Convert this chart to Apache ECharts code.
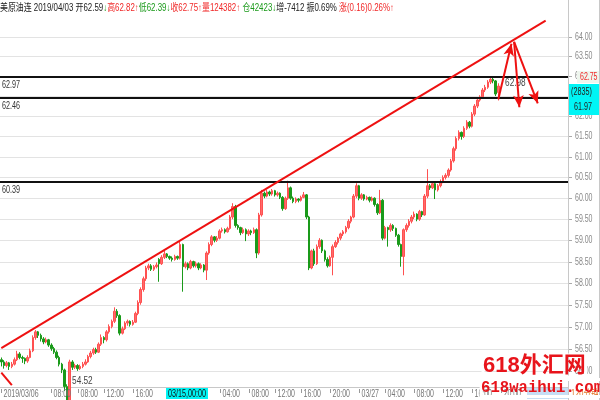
<!DOCTYPE html>
<html><head><meta charset="utf-8">
<script src="https://cdn.jsdelivr.net/npm/echarts@6/dist/echarts.min.js"></script>
<style>html,body{margin:0;padding:0;background:#fff}#c{width:600px;height:400px}</style>
</head><body><div id="c"></div>
<script>
// ---- data (prices) ----
const opens = [
56.25,56.20,56.12,56.18,56.10,56.15,56.25,56.38,56.30,56.28,
56.22,56.30,56.45,56.75,56.88,56.80,56.72,56.65,56.70,56.58,
56.50,56.42,56.30,56.15,56.02,55.65,54.95,56.20,56.08,56.12,
56.05,56.10,56.15,56.20,56.32,56.40,56.48,56.42,56.60,56.75,
56.70,56.88,57.00,57.12,57.35,57.25,56.85,56.95,57.08,57.12,
57.05,57.10,57.30,57.55,57.85,58.10,58.35,58.40,58.32,58.38,
58.55,58.45,58.60,58.68,58.62,58.58,58.55,58.62,58.58,58.90,
58.38,58.45,58.35,58.50,58.40,58.45,58.35,58.42,58.30,58.70,
58.90,59.08,59.00,59.05,59.22,59.25,59.20,59.28,59.55,59.80,
59.35,59.30,59.18,59.25,59.15,59.22,59.18,59.25,58.70,59.60,
60.12,60.05,60.15,60.10,60.18,60.08,60.12,60.02,59.75,60.00,
60.25,60.00,59.92,59.98,59.95,60.02,60.08,59.55,58.35,58.75,
58.45,58.85,59.00,58.75,58.55,58.40,58.60,58.85,58.95,59.05,
59.15,59.20,59.30,59.45,59.55,60.05,60.30,60.00,60.08,59.98,
60.02,59.95,60.00,59.85,59.65,59.95,59.05,59.30,59.25,59.35,
59.28,59.12,58.90,58.62,59.25,59.35,59.45,59.55,59.62,59.50,
59.68,59.60,60.05,60.30,60.25,60.35,60.20,60.30,60.40,60.50,
60.55,60.68,60.90,61.20,61.45,61.60,61.50,61.70,61.85,61.75,
62.05,62.25,62.40,62.48,62.65,62.72,62.85,62.92,62.88,62.59];
const highs = [
56.30,56.24,56.22,56.20,56.20,56.30,56.45,56.42,56.34,56.30,
56.35,56.50,56.80,56.92,56.90,56.84,56.76,56.75,56.72,56.62,
56.54,56.46,56.34,56.18,56.05,55.70,56.25,56.24,56.16,56.15,
56.14,56.20,56.26,56.36,56.45,56.52,56.52,56.64,56.82,56.78,
56.92,57.05,57.16,57.44,57.40,57.28,57.00,57.12,57.16,57.14,
57.15,57.34,57.60,57.90,58.15,58.40,58.45,58.44,58.42,58.48,
58.58,58.65,58.75,58.70,58.64,58.62,58.66,58.64,58.98,58.92,
58.50,58.48,58.54,58.52,58.50,58.48,58.46,58.44,58.74,58.95,
59.12,59.10,59.10,59.26,59.30,59.28,59.32,59.60,59.88,59.84,
59.38,59.32,59.30,59.28,59.26,59.25,59.30,59.28,59.65,60.20,
60.16,60.20,60.18,60.22,60.20,60.16,60.14,60.05,60.04,60.42,
60.28,60.04,60.02,60.00,60.06,60.15,60.10,59.58,58.78,58.80,
58.90,59.05,59.02,58.78,58.60,58.64,58.90,59.00,59.08,59.18,
59.24,59.34,59.50,59.58,60.10,60.36,60.32,60.12,60.10,60.06,
60.04,60.04,60.02,59.88,60.20,59.98,59.34,59.32,59.40,59.38,
59.30,59.15,58.92,59.28,59.40,59.50,59.60,59.68,59.64,59.72,
59.70,60.10,60.70,60.34,60.40,60.38,60.34,60.45,60.55,60.60,
60.72,60.95,61.25,61.50,61.65,61.62,61.75,61.90,61.88,62.10,
62.30,62.45,62.52,62.70,62.78,62.90,62.95,62.98,62.90,62.82];
const lows = [
56.10,56.05,56.08,56.02,56.06,56.12,56.22,56.26,56.18,56.15,
56.18,56.28,56.42,56.70,56.74,56.66,56.60,56.62,56.54,56.45,
56.38,56.26,56.10,55.95,55.55,54.52,54.90,56.02,56.04,56.00,
56.02,56.06,56.12,56.18,56.28,56.36,56.38,56.40,56.56,56.62,
56.66,56.84,56.96,57.08,57.20,56.80,56.82,56.92,57.02,57.00,
57.02,57.08,57.26,57.50,57.80,58.05,58.30,58.28,58.28,58.34,
58.03,58.42,58.56,58.58,58.54,58.50,58.52,58.54,58.55,57.80,
58.34,58.30,58.32,58.36,58.36,58.30,58.32,58.25,58.07,58.66,
58.86,58.95,58.96,59.02,59.18,59.16,59.18,59.25,59.50,59.30,
59.25,59.12,59.15,58.98,59.10,59.12,59.15,58.58,58.66,59.56,
60.00,60.02,60.05,60.06,60.04,60.04,59.98,59.70,59.72,59.96,
59.96,59.88,59.88,59.90,59.92,60.00,59.50,58.30,58.32,58.40,
58.42,58.80,58.70,58.50,58.36,58.38,58.18,58.82,58.90,59.00,
59.10,59.16,59.26,59.40,59.52,60.00,59.95,59.96,59.94,59.95,
59.90,59.92,59.80,59.60,59.62,59.00,59.02,58.85,59.20,59.22,
59.08,58.85,58.38,58.18,59.20,59.30,59.40,59.50,59.45,59.46,
59.55,59.58,60.00,60.20,60.22,59.98,60.16,60.26,60.36,60.45,
60.50,60.64,60.86,61.15,61.40,61.42,61.46,61.66,61.70,61.72,
62.00,62.20,62.36,62.44,62.60,62.68,62.80,62.82,62.50,62.39];
const closes = [
56.20,56.12,56.18,56.10,56.15,56.25,56.38,56.30,56.28,56.22,
56.30,56.45,56.75,56.88,56.80,56.72,56.65,56.70,56.58,56.50,
56.42,56.30,56.15,56.02,55.65,54.95,56.20,56.08,56.12,56.05,
56.10,56.15,56.20,56.32,56.40,56.48,56.42,56.60,56.75,56.70,
56.88,57.00,57.12,57.35,57.25,56.85,56.95,57.08,57.12,57.05,
57.10,57.30,57.55,57.85,58.10,58.35,58.40,58.32,58.38,58.42,
58.45,58.60,58.68,58.62,58.58,58.55,58.62,58.58,58.90,58.38,
58.45,58.35,58.50,58.40,58.45,58.35,58.42,58.30,58.70,58.90,
59.08,59.00,59.05,59.22,59.25,59.20,59.28,59.55,59.80,59.35,
59.30,59.18,59.25,59.15,59.22,59.18,59.25,58.70,59.60,60.12,
60.05,60.15,60.10,60.18,60.08,60.12,60.02,59.75,60.00,60.25,
60.00,59.92,59.98,59.95,60.02,60.08,59.55,58.35,58.75,58.45,
58.85,59.00,58.75,58.55,58.40,58.60,58.85,58.95,59.05,59.15,
59.20,59.30,59.45,59.55,60.05,60.30,60.00,60.08,59.98,60.02,
59.95,60.00,59.85,59.65,59.95,59.05,59.30,59.25,59.35,59.28,
59.12,58.90,58.62,59.25,59.35,59.45,59.55,59.62,59.50,59.68,
59.60,60.05,60.30,60.25,60.35,60.20,60.30,60.40,60.50,60.55,
60.68,60.90,61.20,61.45,61.60,61.50,61.70,61.85,61.75,62.05,
62.25,62.40,62.48,62.65,62.72,62.85,62.92,62.88,62.55,62.75];

const categoryCount = 216;
const priceTicks = [56.00,56.50,57.00,57.50,58.00,58.50,59.00,59.50,60.00,60.50,61.00,61.50,62.00,62.50,63.00,63.50,64.00];
const levelValues = [62.97, 62.46, 60.39];
const xLabelIndex = [0,19,29,39,50,83,94,104,114,125,136,146,157,168,179,190];
const xLabelText = ['2019/03/06','08:00','08:00','12:00','16:00','04:00','08:00','12:00','16:00','20:00','03/27','04:00','08:00','12:00','16:00','20:00'];
const annotIndex = [187, 25];
const annotValue = [62.98, 54.52];
const annotAnchor = [62.98, 55.64];
const trendLines = [
  [[0, 56.51], [207, 64.41]],
  [[0, 55.96], [4, 55.68]]
];
const arrows = [
  [[189, 62.42], [194, 63.82]],
  [[195, 63.87], [197, 62.22]],
  [[195, 63.87], [204, 62.32]]
];
const yMin = 55.64, yMax = 64.48;

// ---- chart ----
const L = Math.log;
const RED = '#f02828', GREEN = '#1a9a1a';
const cats = Array.from({length: categoryCount}, (_, i) => String(i));
const candleData = opens.map((o, i) => [L(o), L(closes[i]), L(lows[i]), L(highs[i])]);
const FONT = 'Arial, "Liberation Sans", "Noto Sans CJK SC", sans-serif';

const chart = echarts.init(document.getElementById('c'));
chart.setOption({
  animation: false,
  backgroundColor: '#fff',
  grid: {left: 0, right: 32, top: 18, bottom: 13},
  xAxis: {type: 'category', data: cats, boundaryGap: true,
    axisLine: {show: true, lineStyle: {color: '#c8c8c8'}},
    axisTick: {show: false}, axisLabel: {show: false}, splitLine: {show: false}},
  yAxis: {type: 'value', position: 'right', min: L(yMin), max: L(yMax), scale: true,
    axisLine: {show: true, lineStyle: {color: '#c8c8c8'}},
    axisTick: {show: false}, axisLabel: {show: false}, splitLine: {show: false}},
  series: [
    { // horizontal grid + right labels (log price scale)
      type: 'custom', silent: true, z: 1,
      data: priceTicks.map(v => [0, L(v)]),
      renderItem: function (params, api) {
        const cs = params.coordSys;
        const y = Math.round(api.coord([0, api.value(1)])[1]) + 0.5;
        const r = cs.x + cs.width;
        return {type: 'group', children: [
          {type: 'line', shape: {x1: cs.x, y1: y, x2: r, y2: y}, style: {stroke: '#e3e3e3', lineWidth: 1}},
          {type: 'line', shape: {x1: r, y1: y, x2: r + 4, y2: y}, style: {stroke: '#aaa', lineWidth: 1}},
          {type: 'text', x: r + 7, y: y, scaleX: 0.7,
            style: {text: priceTicks[params.dataIndex].toFixed(2), fill: '#888', fontSize: 10, fontFamily: FONT, verticalAlign: 'middle', align: 'left'}}
        ]};
      }
    },
    {
      type: 'candlestick', z: 2, barWidth: 2,
      data: candleData,
      itemStyle: {color: '#ff6b6b', color0: GREEN, borderColor: '#ff5050', borderColor0: GREEN, borderWidth: 1},
      markLine: {
        silent: true, animation: false, symbol: 'none',
        lineStyle: {color: '#ee1111', width: 2, type: 'solid'},
        label: {show: false},
        data: trendLines.map(t => [{coord: [t[0][0], L(t[0][1])]}, {coord: [t[1][0], L(t[1][1])]}])
          .concat(arrows.map(a => [
            {coord: [a[0][0], L(a[0][1])], symbol: 'none'},
            {coord: [a[1][0], L(a[1][1])], symbol: 'arrow', symbolSize: [8, 12]}
          ]))
      }
    },
    { // support / resistance levels
      type: 'custom', silent: true, z: 3,
      data: levelValues.map(v => [0, L(v)]),
      renderItem: function (params, api) {
        const cs = params.coordSys;
        const y = Math.round(api.coord([0, api.value(1)])[1]);
        return {type: 'group', children: [
          {type: 'line', shape: {x1: cs.x, y1: y, x2: cs.x + cs.width, y2: y}, style: {stroke: '#111', lineWidth: 2}},
          {type: 'text', x: 2, y: y + 3, scaleX: 0.72,
            style: {text: levelValues[params.dataIndex].toFixed(2), fill: '#333', fontSize: 10, fontFamily: FONT, verticalAlign: 'top', align: 'left'}}
        ]};
      }
    },
    { // x axis labels
      type: 'custom', silent: true, z: 3,
      data: xLabelIndex.map(i => [i, L(60)]),
      renderItem: function (params, api) {
        const cs = params.coordSys;
        const x = Math.round(api.coord([api.value(0), api.value(1)])[0]) + 0.5;
        const b = cs.y + cs.height;
        return {type: 'group', children: [
          {type: 'line', shape: {x1: x, y1: b + 2, x2: x, y2: b + 6}, style: {stroke: '#999', lineWidth: 1}},
          {type: 'text', x: x + 2, y: b + 2, scaleX: 0.7,
            style: {text: xLabelText[params.dataIndex], fill: '#777', fontSize: 10, fontFamily: FONT, verticalAlign: 'top', align: 'left'}}
        ]};
      }
    },
    { // high / low annotations
      type: 'custom', silent: true, z: 4,
      data: annotIndex.map((i, k) => [i, L(annotAnchor[k])]),
      renderItem: function (params, api) {
        const p = api.coord([api.value(0), api.value(1)]);
        const k = params.dataIndex;
        const off = k === 0 ? [12, 6] : [5, -6];
        return {type: 'text', x: p[0] + off[0], y: p[1] + off[1], scaleX: 0.75,
          style: {text: annotValue[k].toFixed(2), fill: '#444', fontSize: 11, fontFamily: FONT, verticalAlign: 'middle', align: 'left'}};
      }
    }
  ],
  graphic: [
    {type: 'line', shape: {x1: 568.5, y1: 0, x2: 568.5, y2: 400}, style: {stroke: '#c8c8c8', lineWidth: 1}, z: 10},
    {type: 'line', shape: {x1: 599.5, y1: 0, x2: 599.5, y2: 400}, style: {stroke: '#c8c8c8', lineWidth: 1}, z: 10},
    {type: 'text', x: 0, y: 3, scaleX: 0.79, z: 10,
      style: {
        text: '{k|美原油连 2019/04/03 开62.59}{g|↓}{r|高62.82↑}{g|低62.39↓}{r|收62.75↑}{r|量124382↑} {g|仓42423↓}{k|增-7412 振0.69% }{r|涨(0.16)0.26%↑}',
        fontSize: 10, fontFamily: FONT, verticalAlign: 'top',
        rich: {k: {fill: '#222', fontSize: 10, fontFamily: FONT}, r: {fill: RED, fontSize: 10, fontFamily: FONT}, g: {fill: GREEN, fontSize: 10, fontFamily: FONT}}
      }},
    {type: 'rect', shape: {x: 577, y: 71, width: 22, height: 12}, style: {fill: '#eef6ee'}, z: 10},
    {type: 'text', x: 580, y: 77, scaleX: 0.7, z: 11, style: {text: '62.75', fill: RED, fontSize: 10, fontFamily: FONT, verticalAlign: 'middle'}},
    {type: 'rect', shape: {x: 569, y: 84, width: 30, height: 31}, style: {fill: '#00f5f5'}, z: 10},
    {type: 'text', x: 571, y: 92, scaleX: 0.72, z: 11, style: {text: '(2835)', fill: '#222', fontSize: 10, fontFamily: FONT, verticalAlign: 'middle'}},
    {type: 'text', x: 574, y: 107, scaleX: 0.72, z: 11, style: {text: '61.97', fill: '#222', fontSize: 10, fontFamily: FONT, verticalAlign: 'middle'}},
    {type: 'rect', shape: {x: 166, y: 388, width: 42, height: 11}, style: {fill: '#00f5f5'}, z: 10},
    {type: 'text', x: 168, y: 394, scaleX: 0.72, z: 11, style: {text: '03/15,00:00', fill: '#111', fontSize: 10, fontFamily: FONT, verticalAlign: 'middle'}},
    {type: 'rect', shape: {x: 527, y: 388, width: 41, height: 11}, style: {fill: '#c6def5'}, z: 10},
    {type: 'text', x: 571, y: 394, scaleX: 0.75, z: 11, style: {text: '120分钟', fill: '#e07020', fontSize: 10, fontFamily: FONT, verticalAlign: 'middle'}},
    {type: 'text', x: 483, y: 366, z: 20, style: {text: '618外汇网', fill: '#e8141b', fontSize: 22, fontWeight: 'bold', fontFamily: FONT, verticalAlign: 'middle', textBorderColor: '#fff', textBorderWidth: 3}},
    {type: 'text', x: 481, y: 388, z: 20, scaleX: 0.92, style: {text: '618waihui.com', fill: '#e8141b', fontSize: 17, fontWeight: 'bold', fontFamily: '"Liberation Mono", "DejaVu Sans Mono", monospace', verticalAlign: 'middle', textBorderColor: '#fff', textBorderWidth: 3}}
  ]
});
</script>
</body></html>
